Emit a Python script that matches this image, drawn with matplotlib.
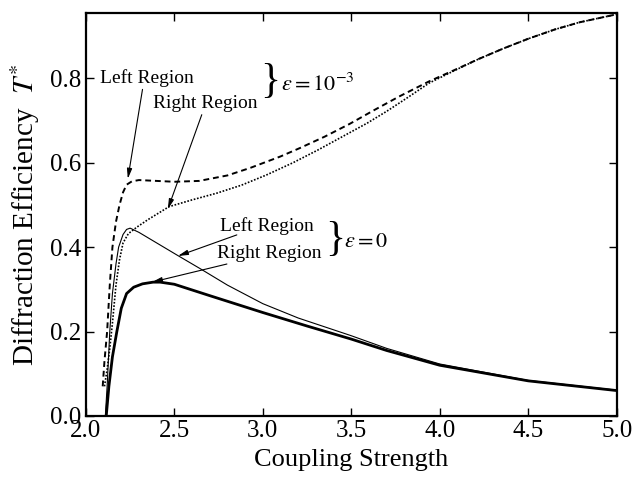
import matplotlib
matplotlib.use('Agg')
import matplotlib.pyplot as plt

plt.rcParams['font.family'] = 'Liberation Serif'
plt.rcParams['mathtext.fontset'] = 'stix'

# eps = 1e-3, left region (dashed)
x_dash = [2.095, 2.105, 2.12, 2.135, 2.15, 2.17, 2.19, 2.21, 2.23, 2.26, 2.30, 2.40, 2.50,
          2.64, 2.80, 2.93, 3.10, 3.21, 3.35, 3.49, 3.63, 3.77, 3.94, 4.10, 4.22, 4.36,
          4.50, 4.65, 4.79, 4.90, 5.00]
y_dash = [0.07, 0.13, 0.20, 0.31, 0.40, 0.46, 0.50, 0.53, 0.548, 0.556, 0.559, 0.557, 0.555,
          0.557, 0.57, 0.588, 0.615, 0.635, 0.662, 0.692, 0.725, 0.757, 0.793, 0.823, 0.846, 0.871,
          0.894, 0.916, 0.933, 0.943, 0.952]

# eps = 1e-3, right region (dotted)
x_dot = [2.105, 2.12, 2.135, 2.15, 2.17, 2.19, 2.21, 2.24, 2.29, 2.35, 2.47, 2.60, 2.74,
         2.88, 3.02, 3.17, 3.31, 3.45, 3.59, 3.70, 3.82, 3.94, 4.10, 4.22, 4.36, 4.50,
         4.65, 4.79, 4.90, 5.00]
y_dot = [0.07, 0.11, 0.16, 0.22, 0.31, 0.37, 0.41, 0.432, 0.448, 0.465, 0.496, 0.512, 0.528,
         0.547, 0.571, 0.60, 0.63, 0.662, 0.694, 0.722, 0.755, 0.789, 0.822, 0.846, 0.871, 0.894,
         0.916, 0.933, 0.943, 0.952]

# eps = 0, left region (thin solid)
x_thin = [2.11, 2.12, 2.135, 2.15, 2.17, 2.185, 2.21, 2.23, 2.25, 2.30, 2.40, 2.52, 2.65,
          2.80, 3.00, 3.20, 3.50, 3.70, 4.00, 4.50, 5.00]
y_thin = [0.0, 0.07, 0.20, 0.29, 0.36, 0.40, 0.43, 0.442, 0.445, 0.435, 0.41, 0.38, 0.348,
          0.31, 0.266, 0.232, 0.19, 0.16, 0.123, 0.084, 0.061]

# eps = 0, right region (thick solid)
x_thick = [2.115, 2.13, 2.15, 2.175, 2.20, 2.23, 2.27, 2.32, 2.38, 2.42, 2.50, 2.70, 3.00,
           3.25, 3.50, 3.70, 4.00, 4.50, 5.00]
y_thick = [0.0, 0.07, 0.14, 0.20, 0.255, 0.29, 0.305, 0.313, 0.317, 0.317, 0.312, 0.285, 0.245,
           0.213, 0.182, 0.155, 0.12, 0.083, 0.06]

fig = plt.figure(figsize=(6.41, 4.83), dpi=100)
ax = fig.add_axes([0.134, 0.139, 0.828, 0.834])

ax.plot(x_dash, y_dash, color='k', lw=1.4, linestyle=(0, (3, 2)))
ax.plot(x_dot, y_dot, color='k', lw=1.2, linestyle=(0, (1, 1)))
ax.plot(x_thin, y_thin, color='k', lw=0.8)
ax.plot(x_thick, y_thick, color='k', lw=2.0)

ax.set_xlim(2.0, 5.0)
ax.set_ylim(0.0, 0.955)
ax.set_xticks([2.0, 2.5, 3.0, 3.5, 4.0, 4.5, 5.0])
ax.set_yticks([0.0, 0.2, 0.4, 0.6, 0.8])
ax.tick_params(direction='in', top=True, right=True, length=6, width=1.0,
               labelsize=18, pad=3)
for s in ax.spines.values():
    s.set_linewidth(1.6)

ax.set_xlabel('Coupling Strength', fontsize=19, labelpad=5)
ax.set_ylabel(r'Diffraction Efficiency  $T^{*}$', fontsize=21, labelpad=6)

arrow = dict(arrowstyle='-|>,head_length=0.6,head_width=0.15', color='k', lw=0.8,
             shrinkA=0, shrinkB=0)

# eps = 1e-3 labels
ax.text(2.08, 0.80, 'Left Region', fontsize=14, va='center', ha='left')
ax.text(2.38, 0.74, 'Right Region', fontsize=14, va='center', ha='left')
ax.text(3.04, 0.792, '}', fontsize=30, va='center', ha='center')
ax.text(3.10, 0.785, r'$\varepsilon=10^{-3}$', fontsize=16, va='center', ha='left')
ax.annotate('', xy=(2.237, 0.562), xytext=(2.32, 0.774), arrowprops=arrow)
ax.annotate('', xy=(2.463, 0.49), xytext=(2.655, 0.714), arrowprops=arrow)

# eps = 0 labels
ax.text(2.757, 0.45, 'Left Region', fontsize=14, va='center', ha='left')
ax.text(2.74, 0.386, 'Right Region', fontsize=14, va='center', ha='left')
ax.text(3.41, 0.418, '}', fontsize=30, va='center', ha='center')
ax.text(3.46, 0.41, r'$\varepsilon=0$', fontsize=16, va='center', ha='left')
ax.annotate('', xy=(2.52, 0.379), xytext=(2.853, 0.429), arrowprops=arrow)
ax.annotate('', xy=(2.373, 0.317), xytext=(2.797, 0.36), arrowprops=arrow)

fig.savefig('out.png', dpi=100)
